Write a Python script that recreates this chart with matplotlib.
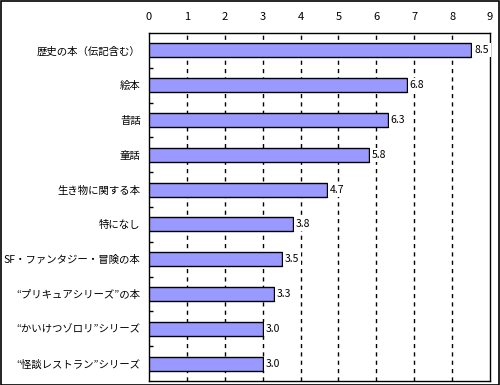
import matplotlib
matplotlib.use("Agg")
import matplotlib.pyplot as plt
import numpy as np

plt.rcParams['font.family'] = ['Noto Sans CJK JP', 'DejaVu Sans']

categories = [
    "歴史の本（伝記含む）",
    "絵本",
    "昔話",
    "童話",
    "生き物に関する本",
    "特になし",
    "SF・ファンタジー・冒険の本",
    "“プリキュアシリーズ”の本",
    "“かいけつゾロリ”シリーズ",
    "“怪談レストラン”シリーズ",
]
values = [8.5, 6.8, 6.3, 5.8, 4.7, 3.8, 3.5, 3.3, 3.0, 3.0]
xticks = [0, 1, 2, 3, 4, 5, 6, 7, 8, 9]

fig = plt.figure(figsize=(5, 3.85), dpi=100)
ax = fig.add_axes([149 / 500, 1 - 381 / 385, 341 / 500, 348 / 385])

y = np.arange(len(categories))
ax.barh(y, values, height=0.4, color='#9999FF', edgecolor='black', linewidth=1, zorder=3)

# value labels sit on a white patch that hides the gridlines
for yi, v in zip(y, values):
    ax.text(v + 0.08, yi, f"{v:.1f}", va='center', ha='left', fontsize=7.5, zorder=4,
            bbox=dict(facecolor='white', edgecolor='none', pad=1.5))

ax.set_xlim(0, 9)
ax.set_ylim(len(categories) - 0.5, -0.5)
ax.set_xticks(xticks)
ax.xaxis.tick_top()
ax.tick_params(axis='x', length=0, labelsize=8, pad=8)
ax.set_yticks(y)
ax.set_yticklabels(categories, fontsize=7.5)
ax.tick_params(axis='y', which='major', length=0, pad=6)
ax.set_yticks(np.arange(len(categories) - 1) + 0.5, minor=True)
ax.tick_params(axis='y', which='minor', direction='in', length=3, width=1)

for t in xticks[1:-1]:
    ax.axvline(t, color='black', linestyle=(0, (3, 3)), linewidth=1, zorder=1)

for s in ax.spines.values():
    s.set_linewidth(1)
    s.set_color('black')

fig.patches.append(plt.Rectangle((0.001, 0.001), 0.997, 0.996, transform=fig.transFigure,
                                 fill=False, edgecolor='black', linewidth=1.2))

fig.savefig("out.png", dpi=100)
